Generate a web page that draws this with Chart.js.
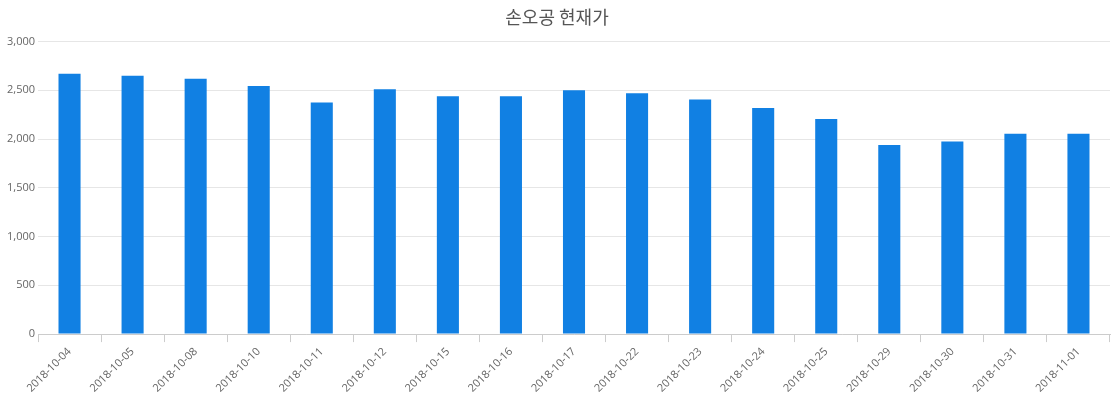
<!DOCTYPE html>
<html>
<head>
<meta charset="utf-8">
<script src="https://cdn.jsdelivr.net/npm/chart.js@4"></script>
<style>
  body { margin: 0; background: #fff; }
  #wrap { width: 1120px; height: 400px; }
</style>
</head>
<body>
<div id="wrap"><canvas id="c"></canvas></div>
<script>
// dates and closing prices
const dates = ["2018-10-04", "2018-10-05", "2018-10-08", "2018-10-10", "2018-10-11", "2018-10-12",
  "2018-10-15", "2018-10-16", "2018-10-17", "2018-10-22", "2018-10-23", "2018-10-24",
  "2018-10-25", "2018-10-29", "2018-10-30", "2018-10-31", "2018-11-01"];
const prices = [2670, 2650, 2620, 2545, 2375, 2510, 2440, 2440, 2500, 2470, 2405, 2320,
  2205, 1940, 1975, 2055, 2055];

new Chart(document.getElementById("c"), {
  type: "bar",
  data: {
    labels: dates,
    datasets: [{
      label: "현재가",
      data: prices,
      backgroundColor: "#1180e3",
      barPercentage: 0.35,
      categoryPercentage: 1,
    }],
  },
  options: {
    responsive: true,
    maintainAspectRatio: false,
    animation: false,
    layout: { padding: { left: 4, right: 10, bottom: 2 } },
    plugins: {
      legend: { display: false },
      title: {
        display: true,
        text: "손오공 현재가",
        color: "#555",
        font: { family: "Noto Sans CJK KR", size: 18, weight: "normal" },
        padding: { top: 6, bottom: 14 },
      },
    },
    scales: {
      y: {
        min: 0, max: 3000,
        ticks: { stepSize: 500, color: "#666", font: { size: 11, family: "Open Sans" } },
        grid: { color: "#e6e6e6", drawTicks: false },
        border: { display: false },
      },
      x: {
        ticks: { maxRotation: 45, minRotation: 45, color: "#666", font: { size: 11, family: "Open Sans" } },
        grid: { display: true, drawOnChartArea: false, color: "#ccc", tickLength: 8, offset: true },
        border: { color: "#ccc" },
      },
    },
  },
});
</script>
</body>
</html>
